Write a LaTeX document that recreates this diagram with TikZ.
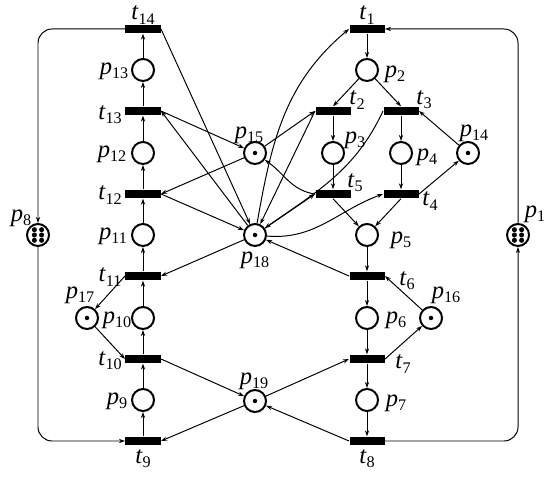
\documentclass[tikz,border=0pt]{standalone}
\usepackage{fontspec}
\setmainfont{Liberation Serif}
\usetikzlibrary{arrows.meta, positioning}
\newcommand{\lbl}[2]{\textit{#1}\raisebox{-3pt}{\fontsize{11.5}{13}\selectfont #2}}
\tikzset{
  every picture/.style={line width=0.7pt},
  place/.style={circle, draw, line width=1.4pt, minimum size=0.55cm, inner sep=0pt},
  transition/.style={rectangle, fill=black, minimum width=0.875cm, minimum height=0.21cm, inner sep=0pt},
  flow/.style={-{Stealth[length=4.3pt, width=3pt]}, line width=0.7pt},
  lab/.style={inner sep=0pt, font=\fontsize{17.5}{20}\selectfont},
}

\begin{document}
\begin{tikzpicture}[x=0.025cm, y=0.025cm]
  \useasboundingbox (0,0) rectangle (550,485);
  % left column
  \node[transition] (t14) at (143,456) {};
  \node[place] (p13) at (143,415) {};
  \node[transition] (t13) at (143,374) {};
  \node[place] (p12) at (143,332) {};
  \node[transition] (t12) at (143,291) {};
  \node[place] (p11) at (143,250) {};
  \node[transition] (t11) at (143,209) {};
  \node[place] (p10) at (143,167) {};
  \node[transition] (t10) at (143,126) {};
  \node[place] (p9) at (143,85) {};
  \node[transition] (t9) at (143,44) {};
  \node[place] (p8) at (38,250) {};
  \node[place] (p17) at (87,167) {};
  % right column
  \node[transition] (t1) at (367,456) {};
  \node[place] (p2) at (367,415) {};
  \node[transition] (t2) at (333,374) {};
  \node[transition] (t3) at (401,374) {};
  \node[place] (p3) at (333,332) {};
  \node[place] (p4) at (401,332) {};
  \node[place] (p14) at (468,332) {};
  \node[transition] (t5) at (333,291) {};
  \node[transition] (t4) at (401,291) {};
  \node[place] (p5) at (367,250) {};
  \node[place] (p1) at (518,250) {};
  \node[transition] (t6) at (367,209) {};
  \node[place] (p6) at (367,167) {};
  \node[place] (p16) at (431,167) {};
  \node[transition] (t7) at (367,126) {};
  \node[place] (p7) at (367,85) {};
  \node[transition] (t8) at (367,44) {};
  % shared places
  \node[place] (p15) at (255,332) {};
  \node[place] (p18) at (255,250) {};
  \node[place] (p19) at (255,84) {};

  % tokens
  \foreach \n in {p14,p15,p16,p17,p18,p19} \fill (\n) circle (1.6pt);
  \foreach \dx in {-3.6,3.6} \foreach \dy in {-5.3,0,5.3} {
    \fill ([shift={(\dx,\dy)}]p8.center) circle (1.8pt);
    \fill ([shift={(\dx,\dy)}]p1.center) circle (1.8pt);
  }

  % labels
  \node[lab] (lt14) at (143,470) {\lbl{t}{14}};
  \node[lab] (lp13) at (114,414) {\lbl{p}{13}};
  \node[lab] (lt13) at (110,370) {\lbl{t}{13}};
  \node[lab] (lp12) at (112,331) {\lbl{p}{12}};
  \node[lab] (lt12) at (110,290) {\lbl{t}{12}};
  \node[lab] (lp11) at (113,249) {\lbl{p}{11}};
  \node[lab] (lt11) at (110,208) {\lbl{t}{11}};
  \node[lab] (lp17) at (80,190) {\lbl{p}{17}};
  \node[lab] (lp10) at (117,165) {\lbl{p}{10}};
  \node[lab] (lt10) at (110,124) {\lbl{t}{10}};
  \node[lab] (lp9) at (117,84) {\lbl{p}{9}};
  \node[lab] (lt9) at (143,26) {\lbl{t}{9}};
  \node[lab] (lp8) at (21,267) {\lbl{p}{8}};
  \node[lab] (lt1) at (367,470) {\lbl{t}{1}};
  \node[lab] (lp2) at (395,411) {\lbl{p}{2}};
  \node[lab] (lt2) at (357,385) {\lbl{t}{2}};
  \node[lab] (lt3) at (424,385) {\lbl{t}{3}};
  \node[lab] (lp3) at (355,345) {\lbl{p}{3}};
  \node[lab] (lp4) at (427,328) {\lbl{p}{4}};
  \node[lab] (lp14) at (474,352) {\lbl{p}{14}};
  \node[lab] (lt5) at (355,302) {\lbl{t}{5}};
  \node[lab] (lt4) at (430,284) {\lbl{t}{4}};
  \node[lab] (lp5) at (401,245) {\lbl{p}{5}};
  \node[lab] (lp1) at (535,271) {\lbl{p}{1}};
  \node[lab] (lt6) at (407,204) {\lbl{t}{6}};
  \node[lab] (lp16) at (446,190) {\lbl{p}{16}};
  \node[lab] (lp6) at (396,165) {\lbl{p}{6}};
  \node[lab] (lt7) at (403,121) {\lbl{t}{7}};
  \node[lab] (lp7) at (396,82) {\lbl{p}{7}};
  \node[lab] (lt8) at (367,26) {\lbl{t}{8}};
  \node[lab] (lp15) at (249,350) {\lbl{p}{15}};
  \node[lab] (lp18) at (255,225) {\lbl{p}{18}};
  \node[lab] (lp19) at (254,104) {\lbl{p}{19}};

  % left column arcs
  \draw[flow] (t9) -- (p9); \draw[flow] (p9) -- (t10); \draw[flow] (t10) -- (p10);
  \draw[flow] (p10) -- (t11); \draw[flow] (t11) -- (p11); \draw[flow] (p11) -- (t12);
  \draw[flow] (t12) -- (p12); \draw[flow] (p12) -- (t13); \draw[flow] (t13) -- (p13);
  \draw[flow] (p13) -- (t14);
  \draw[flow, rounded corners=10pt] (t14.west) -| (p8.north);
  \draw[flow, rounded corners=10pt] (p8.south) |- (t9.west);
  % right column arcs
  \draw[flow] (t1) -- (p2); \draw[flow] (p2) -- (t2.north); \draw[flow] (p2) -- (t3.north);
  \draw[flow] (t2) -- (p3); \draw[flow] (t3) -- (p4);
  \draw[flow] (p3) -- (t5); \draw[flow] (p4) -- (t4);
  \draw[flow] (t5.south) -- (p5); \draw[flow] (t4.south) -- (p5);
  \draw[flow] (p5) -- (t6); \draw[flow] (t6) -- (p6); \draw[flow] (p6) -- (t7);
  \draw[flow] (t7) -- (p7); \draw[flow] (p7) -- (t8);
  \draw[flow, rounded corners=10pt] (t8.east) -| (p1.south);
  \draw[flow, rounded corners=10pt] (p1.north) |- (t1.east);
  % resources
  \draw[flow] (p14) -- (t3.east); \draw[flow] (t4.east) -- (p14);
  \draw[flow] (p16) -- (t6.east); \draw[flow] (t7.east) -- (p16);
  \draw[flow] (t11.west) -- (p17); \draw[flow] (p17) -- (t10.west);
  \draw[flow] (t10.east) -- (p19); \draw[flow] (p19) -- (t9.east);
  \draw[flow] (p19) -- (t7.west); \draw[flow] (t8.west) -- (p19);
  \draw[flow] (t13.east) -- (p15); \draw[flow] (p15) -- (t12.east);
  \draw[flow] (p15) -- (t2.west); \draw[flow] (t5.west) to[out=172, in=-35] (p15);
  \draw[flow] (t14.east) -- (p18); \draw[flow] (p18) -- (t13.east);
  \draw[flow] (t12.east) -- (p18); \draw[flow] (p18) -- (t11.east);
  \draw[flow] (p18) to[out=80, in=220] (t1.west);
  \draw[flow] (t2.west) -- (p18);
  \draw[flow] (t3.west) to[out=245, in=35] (p18);
  \draw[flow] (p18) -- (t5.west);
  \draw[flow] (p18) to[out=-5, in=200] (t4.west);
  \draw[flow] (t6.west) -- (p18);
\end{tikzpicture}
\end{document}
